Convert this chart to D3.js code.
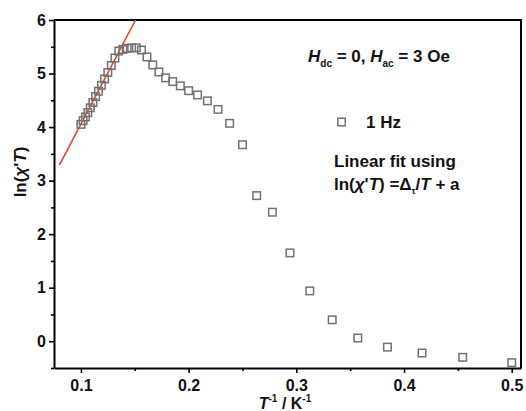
<!DOCTYPE html>
<html><head><meta charset="utf-8">
<script src="https://cdn.jsdelivr.net/npm/d3@7"></script>
<style>
body{margin:0;background:#fff}
svg{display:block}
text{font-family:"Liberation Sans",Arial,sans-serif;font-weight:bold;fill:#111}
</style>
</head><body>
<svg id="c" width="526" height="411"></svg>
<script>
// ---- data ----
const invT = [0.1,0.102,0.1042,0.1064,0.1087,0.1111,0.1136,0.1163,0.119,0.122,0.125,0.1282,0.1316,0.1351,0.1389,0.1429,0.1471,0.1515,0.1562,
  0.1613,0.1667,0.1724,0.1786,0.1852,0.1923,0.2,0.2083,0.2174,0.2273,0.2381,0.25,0.2632,0.2778,0.2941,0.3125,0.3333,0.3571,0.3846,0.4167,0.4545,0.5];
const lnChiT = [4.05,4.12,4.19,4.27,4.36,4.46,4.57,4.67,4.78,4.90,5.02,5.15,5.29,5.42,5.45,5.47,5.48,5.48,5.44,
  5.31,5.16,5.03,4.92,4.85,4.77,4.68,4.60,4.49,4.33,4.07,3.67,2.72,2.41,1.65,0.94,0.40,0.06,-0.11,-0.22,-0.30,-0.40];
const fitX = [0.08, 0.1507];
const fitY = [3.29, 6.0];
const xTickValues = [0.1,0.2,0.3,0.4,0.5];
const xMinorValues = [0.15,0.25,0.35,0.45];
const yTickValues = [0,1,2,3,4,5,6];
const yMinorValues = [-0.5,0.5,1.5,2.5,3.5,4.5,5.5];
const legendLabel = "1 Hz";

// ---- layout ----
const L = 54, R = 521, T = 20, B = 368;
const svg = d3.select("#c");
const x = d3.scaleLinear().domain([0.075, 0.5086]).range([L, R]);
const y = d3.scaleLinear().domain([-0.5, 6]).range([B, T]);

const markerColor = "#767070";
const fitColor = "#e5432d";

// frame (top & right)
svg.append("line").attr("x1", L).attr("x2", R).attr("y1", T).attr("y2", T).attr("stroke", "#000").attr("stroke-width", 2);
svg.append("line").attr("x1", R).attr("x2", R).attr("y1", T-1).attr("y2", B).attr("stroke", "#000").attr("stroke-width", 2);

// axes
const gx = svg.append("g").attr("transform", `translate(0,${B})`)
  .call(d3.axisBottom(x).tickValues(xTickValues).tickFormat(d3.format(".1f")).tickSize(5).tickSizeOuter(0).tickPadding(7));
svg.append("g").attr("transform", `translate(0,${B})`)
  .call(d3.axisBottom(x).tickValues(xMinorValues).tickFormat("").tickSize(3).tickSizeOuter(0))
  .select(".domain").remove();
const gy = svg.append("g").attr("transform", `translate(${L},0)`)
  .call(d3.axisLeft(y).tickValues(yTickValues).tickFormat(d3.format("d")).tickSize(5).tickSizeOuter(0).tickPadding(3));
svg.append("g").attr("transform", `translate(${L},0)`)
  .call(d3.axisLeft(y).tickValues(yMinorValues).tickFormat("").tickSize(3).tickSizeOuter(0))
  .select(".domain").remove();

svg.selectAll(".domain").attr("stroke", "#000").attr("stroke-width", 2);
svg.selectAll(".tick line").attr("stroke", "#000").attr("stroke-width", 1.6);
svg.selectAll(".tick text").attr("font-size", 16).attr("font-weight", "bold")
  .attr("font-family", '"Liberation Sans",Arial,sans-serif').attr("fill", "#111");

// fit line
const line = d3.line().x(d => x(d[0])).y(d => y(d[1]));
svg.append("path").datum(fitX.map((v, i) => [v, fitY[i]]))
  .attr("d", line).attr("fill", "none").attr("stroke", fitColor).attr("stroke-width", 1.6);

// markers
const s = 7.5;
svg.append("g").selectAll("rect").data(invT.map((v, i) => [v, lnChiT[i]])).join("rect")
  .attr("x", d => x(d[0]) - s/2).attr("y", d => y(d[1]) - s/2)
  .attr("width", s).attr("height", s)
  .attr("fill", "none").attr("stroke", markerColor).attr("stroke-width", 1.5);

// axis titles
const xt = svg.append("text").attr("x", 285).attr("y", 409).attr("text-anchor", "middle").attr("font-size", 16);
xt.append("tspan").attr("font-style", "italic").text("T");
xt.append("tspan").attr("font-size", 10).attr("dy", -7).text("-1");
xt.append("tspan").attr("dy", 7).text(" / K");
xt.append("tspan").attr("font-size", 10).attr("dy", -7).text("-1");

const yt = svg.append("text").attr("transform", "translate(26,172) rotate(-90)").attr("text-anchor", "middle").attr("font-size", 17);
yt.append("tspan").text("ln(");
yt.append("tspan").attr("font-style", "italic").text("χ");
yt.append("tspan").text("'");
yt.append("tspan").attr("font-style", "italic").text("T");
yt.append("tspan").text(")");

// annotation H
const ht = svg.append("text").attr("x", 308).attr("y", 62).attr("font-size", 17);
ht.append("tspan").attr("font-style", "italic").text("H");
ht.append("tspan").attr("font-size", 10).attr("dy", 5).text("dc");
ht.append("tspan").attr("dy", -5).text(" = 0, ");
ht.append("tspan").attr("font-style", "italic").text("H");
ht.append("tspan").attr("font-size", 10).attr("dy", 5).text("ac");
ht.append("tspan").attr("dy", -5).text(" = 3 Oe");

// legend
svg.append("rect").attr("x", 341.5 - s/2).attr("y", 122 - s/2).attr("width", s).attr("height", s)
  .attr("fill", "none").attr("stroke", markerColor).attr("stroke-width", 1.5);
svg.append("text").attr("x", 366).attr("y", 128).attr("font-size", 17).text(legendLabel);

// fit text
svg.append("text").attr("x", 334).attr("y", 167).attr("font-size", 17).text("Linear fit using");
const ft = svg.append("text").attr("x", 334).attr("y", 190).attr("font-size", 17);
ft.append("tspan").text("ln(");
ft.append("tspan").attr("font-style", "italic").text("χ");
ft.append("tspan").text("'");
ft.append("tspan").attr("font-style", "italic").text("T");
ft.append("tspan").text(") =Δ");
ft.append("tspan").attr("font-size", 9).attr("dy", 4).text("τ");
ft.append("tspan").attr("dy", -4).text("/");
ft.append("tspan").attr("font-style", "italic").text("T");
ft.append("tspan").text(" + a");
</script>
</body></html>
